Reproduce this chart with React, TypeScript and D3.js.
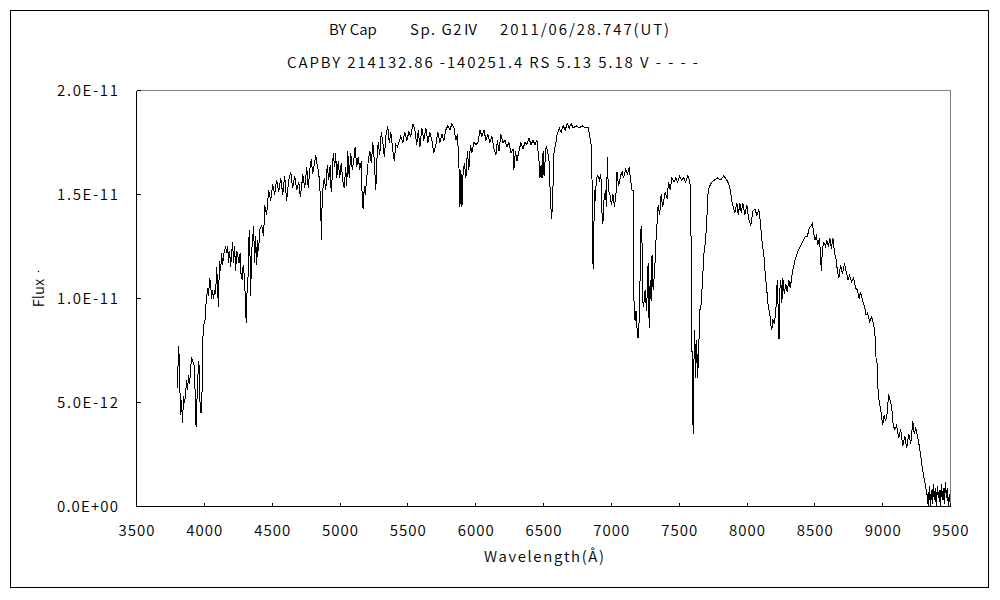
import React from "react";
import * as d3 from "d3";

// Spectrum of BY Cap: [wavelength (Å), flux in units of 1E-11]
const blueSpectrum: [number, number][] = [
  [3803,0.57],[3807,0.71],[3812,0.77],[3817,0.64],[3825,0.44],[3832,0.51],[3839,0.40],[3847,0.53],[3854,0.50],[3862,0.54],
  [3869,0.61],[3876,0.56],[3884,0.63],[3891,0.59],[3898,0.65],[3906,0.72],[3913,0.70],[3924,0.68],[3935,0.51],[3939,0.38],
  [3943,0.46],[3950,0.59],[3958,0.70],[3965,0.65],[3969,0.46],[3976,0.45],[3982,0.46],[3985,0.75],[3994,0.87],[4006,0.90],
  [4013,0.98],[4017,1.00],[4024,1.05],[4031,1.01],[4039,1.10],[4046,1.07],[4054,1.00],[4061,1.04],[4068,1.00],[4076,1.04],
  [4083,1.02],[4091,1.15],[4098,1.06],[4103,0.96],[4109,1.11],[4113,1.18],[4120,1.13],[4127,1.22],[4135,1.16],[4142,1.21],
  [4149,1.23],[4157,1.25],[4164,1.22],[4172,1.25],[4179,1.17],[4186,1.23],[4194,1.15],[4201,1.21],[4208,1.27],[4216,1.17],
  [4223,1.25],[4231,1.13],[4238,1.23],[4245,1.21],[4256,1.17],[4264,1.22],[4271,1.11],[4279,1.09],[4286,1.16],[4297,1.10],
  [4304,0.94],[4310,0.88],[4315,1.04],[4323,1.11],[4327,1.28],[4334,1.33],[4341,1.01],[4349,1.23],[4356,1.28],[4363,1.35],
  [4371,1.17],[4378,1.30],[4386,1.16],[4393,1.28],[4400,1.23],[4408,1.33],[4423,1.35],[4437,1.30],[4445,1.45],[4459,1.40],
  [4474,1.52],[4489,1.47]
];

const greenSpectrum: [number, number][] = [
  [4504,1.55],[4518,1.50],[4533,1.57],[4548,1.51],[4563,1.58],[4578,1.50],[4592,1.59],[4607,1.47],[4622,1.57],[4637,1.61],
  [4651,1.53],[4666,1.59],[4681,1.52],[4696,1.56],[4707,1.49],[4718,1.54],[4725,1.60],[4740,1.53],[4755,1.63],[4766,1.53],
  [4777,1.62],[4788,1.67],[4799,1.60],[4814,1.66],[4821,1.69],[4832,1.64],[4843,1.61],[4851,1.53],[4858,1.47],[4862,1.28],
  [4865,1.40],[4873,1.52],[4884,1.58],[4895,1.52],[4906,1.64],[4917,1.57],[4928,1.64],[4935,1.51],[4943,1.59],[4950,1.70],
  [4961,1.63],[4968,1.70],[4976,1.58],[4987,1.66],[4998,1.58],[5009,1.65],[5020,1.57],[5031,1.53],[5042,1.63],[5050,1.54],
  [5057,1.71],[5068,1.58],[5079,1.70],[5090,1.62],[5101,1.66],[5112,1.73],[5123,1.63],[5134,1.68],[5146,1.62],[5157,1.66],
  [5164,1.47],[5171,1.43],[5179,1.54],[5186,1.50],[5197,1.58],[5208,1.66],[5220,1.71],[5231,1.65],[5242,1.75],[5253,1.66],
  [5264,1.52],[5271,1.66],[5282,1.75],[5293,1.69],[5304,1.80],[5316,1.75],[5327,1.68],[5338,1.78],[5352,1.83],[5363,1.75],
  [5375,1.80],[5386,1.73],[5400,1.66],[5411,1.74],[5423,1.73],[5434,1.75],[5448,1.78],[5463,1.75],[5478,1.80],[5493,1.76],
  [5507,1.80],[5522,1.78],[5537,1.84],[5552,1.81],[5566,1.74],[5577,1.81],[5589,1.73],[5603,1.82],[5618,1.76],[5633,1.82],
  [5648,1.75],[5662,1.80],[5677,1.76],[5692,1.70],[5707,1.74],[5721,1.80],[5736,1.75],[5751,1.79],[5766,1.76],[5780,1.81],
  [5795,1.83],[5810,1.81],[5825,1.84],[5840,1.82],[5854,1.76],[5865,1.79],[5876,1.66],[5884,1.44],[5891,1.62],[5899,1.44]
];

const redSpectrum: [number, number][] = [
  [5906,1.59],[5917,1.65],[5928,1.58],[5939,1.71],[5950,1.62],[5961,1.74],[5972,1.70],[5987,1.75],[6002,1.74],[6017,1.75],
  [6031,1.81],[6046,1.78],[6061,1.81],[6076,1.76],[6090,1.79],[6105,1.75],[6120,1.78],[6135,1.72],[6149,1.69],[6160,1.76],
  [6172,1.71],[6186,1.79],[6201,1.75],[6216,1.76],[6231,1.73],[6245,1.75],[6260,1.70],[6275,1.72],[6282,1.62],[6293,1.71],
  [6304,1.66],[6319,1.71],[6334,1.75],[6349,1.72],[6363,1.75],[6378,1.74],[6393,1.77],[6408,1.74],[6423,1.76],[6437,1.74],
  [6452,1.76],[6467,1.66],[6474,1.58],[6482,1.64],[6489,1.58],[6497,1.71],[6504,1.59],[6519,1.73],[6530,1.71],[6541,1.66],
  [6552,1.47],[6560,1.38],[6567,1.47],[6578,1.71],[6590,1.74],[6601,1.79],[6616,1.82],[6630,1.80],[6645,1.83],[6660,1.81],
  [6675,1.84],[6690,1.82],[6704,1.84],[6719,1.82],[6741,1.83],[6764,1.82],[6786,1.83],[6808,1.82],[6830,1.82],[6841,1.78],
  [6849,1.75],[6856,1.71],[6861,1.28],[6866,1.14],[6871,1.33],[6877,1.52],[6882,1.47],[6890,1.58],[6901,1.59],[6912,1.57],
  [6923,1.60],[6930,1.42],[6938,1.36],[6945,1.47],[6956,1.52],[6964,1.44],[6971,1.68],[6978,1.52],[6990,1.50],[7001,1.45],
  [7012,1.50],[7023,1.44],[7034,1.50],[7042,1.61],[7053,1.54],[7068,1.59],[7079,1.61],[7090,1.58],[7105,1.62],[7120,1.60],
  [7131,1.63],[7142,1.57],[7153,1.52],[7160,1.52],[7167,0.99],[7175,0.89],[7182,0.94],[7190,0.85],[7197,0.81],[7205,0.89],
  [7212,1.10],[7219,1.34],[7225,1.35],[7230,0.99],[7238,0.96],[7249,1.04],[7260,0.94],[7271,1.17],[7279,0.86],[7286,1.09],
  [7293,0.99],[7300,1.21],[7308,1.04],[7319,1.13],[7330,1.29],[7337,1.36],[7345,1.45],[7356,1.40],[7367,1.50],[7378,1.44],
  [7397,1.51],[7411,1.48],[7422,1.56],[7434,1.52],[7445,1.58],[7463,1.56],[7474,1.58],[7489,1.56]
];

const nirSpectrum: [number, number][] = [
  [7503,1.59],[7518,1.57],[7533,1.58],[7548,1.56],[7563,1.59],[7577,1.57],[7585,1.52],[7592,0.86],[7598,0.61],[7603,0.35],
  [7609,0.70],[7615,0.85],[7621,0.62],[7629,0.80],[7636,0.62],[7644,0.74],[7651,0.94],[7662,0.97],[7673,1.10],[7684,1.23],
  [7695,1.28],[7707,1.42],[7714,1.52],[7725,1.54],[7740,1.56],[7762,1.57],[7784,1.58],[7806,1.57],[7829,1.59],[7851,1.57],
  [7866,1.55],[7877,1.52],[7888,1.47],[7899,1.44],[7910,1.41],[7925,1.46],[7936,1.40],[7947,1.46],[7958,1.41],[7969,1.46],
  [7984,1.40],[7999,1.45],[8013,1.38],[8028,1.35],[8043,1.42],[8058,1.43],[8073,1.40],[8087,1.43],[8098,1.37],[8110,1.28],
  [8124,1.21],[8135,1.11],[8146,1.04],[8157,0.96],[8168,0.93],[8176,0.87],[8183,0.85],[8190,0.90],[8201,0.88],[8212,0.93],
  [8220,1.06],[8227,1.09],[8231,0.81],[8238,0.81],[8242,1.04],[8249,1.09],[8257,0.98],[8264,1.10],[8275,1.02],[8286,1.07],
  [8297,1.03],[8308,1.09],[8319,1.05],[8331,1.11],[8342,1.15],[8356,1.19],[8371,1.22],[8386,1.24],[8401,1.26],[8415,1.28],
  [8430,1.30],[8445,1.30],[8460,1.34],[8475,1.35],[8482,1.36],[8489,1.33],[8500,1.28],[8511,1.30],[8522,1.26],[8534,1.29],
  [8541,1.22],[8548,1.13],[8556,1.24],[8567,1.27],[8578,1.25],[8589,1.28],[8600,1.25],[8611,1.29],[8622,1.24],[8633,1.29],
  [8645,1.22],[8656,1.19],[8667,1.13],[8678,1.10],[8689,1.16],[8704,1.12],[8719,1.17],[8734,1.12],[8745,1.09],[8756,1.11],
  [8771,1.08],[8786,1.10],[8800,1.05],[8815,1.04],[8826,1.00],[8837,1.03],[8852,0.99],[8867,0.96],[8878,0.92],[8889,0.93],
  [8904,0.89],[8919,0.91],[8933,0.88],[8945,0.81],[8952,0.70],[8959,0.69],[8967,0.54],[8978,0.49],[8989,0.45],[9000,0.39],
  [9011,0.44],[9022,0.41],[9033,0.45],[9044,0.54],[9055,0.51],[9066,0.48],[9078,0.39],[9089,0.37],[9103,0.39],[9118,0.33],
  [9133,0.37],[9148,0.29],[9163,0.34],[9177,0.28],[9192,0.35],[9207,0.30],[9222,0.41],[9233,0.35],[9244,0.38],[9259,0.33],
  [9273,0.28],[9285,0.22],[9296,0.17],[9307,0.13],[9318,0.09],[9329,0.05],[9336,0.00],[9344,0.10],[9351,0.00],[9358,0.08],
  [9366,0.01],[9373,0.11],[9380,0.03],[9388,0.09],[9395,0.00],[9403,0.10],[9410,0.04],[9417,0.08],[9425,0.00],[9432,0.11],
  [9439,0.03],[9447,0.09],[9454,0.01],[9462,0.12],[9469,0.04],[9476,0.09],[9484,0.00],[9491,0.06],[9497,0.02]
];

const FLUX_UNIT = 1e-11;
const xTicks = [3500, 4000, 4500, 5000, 5500, 6000, 6500, 7000, 7500, 8000, 8500, 9000, 9500];
const yTicks = [0, 0.5e-11, 1.0e-11, 1.5e-11, 2.0e-11];
const yTickLabels = ["0.0E+00", "5.0E-12", "1.0E-11", "1.5E-11", "2.0E-11"];
const titleParts = ["BY Cap", "Sp. G2Ⅳ", "2011/06/28.747(UT)"];
const subtitle = "CAPBY 214132.86 -140251.4 RS 5.13 5.18 V - - - -";
const xAxisLabel = "Wavelength(Å)";
const yAxisLabel = "Flux";

const FONT = "'Noto Sans CJK JP', 'Noto Sans', sans-serif";

export default function App() {
  const plot = { left: 136.5, right: 950.5, top: 90.5, bottom: 506.5 };
  const x = d3.scaleLinear().domain([3500, 9500]).range([plot.left, plot.right]);
  const y = d3.scaleLinear().domain([0, 2e-11]).range([plot.bottom, plot.top]);
  const spectrum = [...blueSpectrum, ...greenSpectrum, ...redSpectrum, ...nirSpectrum];
  const line = d3
    .line<[number, number]>()
    .x((d) => x(d[0]))
    .y((d) => y(d[1] * FLUX_UNIT));
  const titleLayout = [
    { x: 329, w: 0 },
    { x: 410, w: 68 },
    { x: 500, w: 169 },
  ];
  const fs = 15;

  return (
    <svg
      width={1000}
      height={600}
      style={{ position: "absolute", left: 0, top: 0, background: "#fff" }}
      fontFamily={FONT}
      fontWeight={350}
    >
      <rect x={0} y={0} width={1000} height={600} fill="#fff" />
      <rect x={10.5} y={10.5} width={978} height={577} fill="none" stroke="#000" strokeWidth={1} shapeRendering="crispEdges" />

      {titleParts.map((t, i) =>
        titleLayout[i].w > 0 ? (
          <text
            key={t}
            x={titleLayout[i].x}
            y={35}
            fontSize={fs}
            fill="#000"
            textLength={titleLayout[i].w}
            lengthAdjust="spacing"
          >
            {t}
          </text>
        ) : (
          <text key={t} x={titleLayout[i].x} y={35} fontSize={fs} fill="#000" style={{ whiteSpace: "pre" }}>
            {t}
          </text>
        )
      )}
      <text x={287} y={68} fontSize={fs} fill="#000" textLength={411} lengthAdjust="spacing" style={{ whiteSpace: "pre" }}>
        {subtitle}
      </text>

      {/* plot frame */}
      <line x1={plot.left} y1={plot.top} x2={plot.right} y2={plot.top} stroke="#808080" shapeRendering="crispEdges" />
      <line x1={plot.right} y1={plot.top} x2={plot.right} y2={plot.bottom} stroke="#808080" shapeRendering="crispEdges" />
      <line x1={plot.left} y1={plot.top} x2={plot.left} y2={plot.bottom} stroke="#000" shapeRendering="crispEdges" />
      <line x1={plot.left} y1={plot.bottom} x2={plot.right} y2={plot.bottom} stroke="#000" shapeRendering="crispEdges" />

      {yTicks.map((v, i) => (
        <g key={v}>
          <line x1={plot.left} x2={plot.left + 4} y1={y(v)} y2={y(v)} stroke="#000" shapeRendering="crispEdges" />
          <text x={57} y={y(v)} dy="0.36em" fontSize={fs} fill="#000" textLength={61} lengthAdjust="spacing">
            {yTickLabels[i]}
          </text>
        </g>
      ))}
      {xTicks.map((v) => (
        <g key={v}>
          <line x1={x(v)} x2={x(v)} y1={plot.bottom} y2={plot.bottom - 4} stroke="#000" shapeRendering="crispEdges" />
          <text x={x(v) - 18} y={531} dy="0.36em" fontSize={fs} fill="#000" textLength={36} lengthAdjust="spacing">
            {v}
          </text>
        </g>
      ))}

      <text x={484} y={557} dy="0.36em" fontSize={fs} fill="#000" textLength={120} lengthAdjust="spacing">
        {xAxisLabel}
      </text>
      <text transform="translate(39,293) rotate(-90)" dy="0.36em" textAnchor="middle" fontSize={fs} fill="#000">
        {yAxisLabel}
      </text>
      <circle cx={38.5} cy={271.5} r={0.7} fill="#000" />

      <path d={line(spectrum) || ""} fill="none" stroke="#000" strokeWidth={1} shapeRendering="crispEdges" />
    </svg>
  );
}
